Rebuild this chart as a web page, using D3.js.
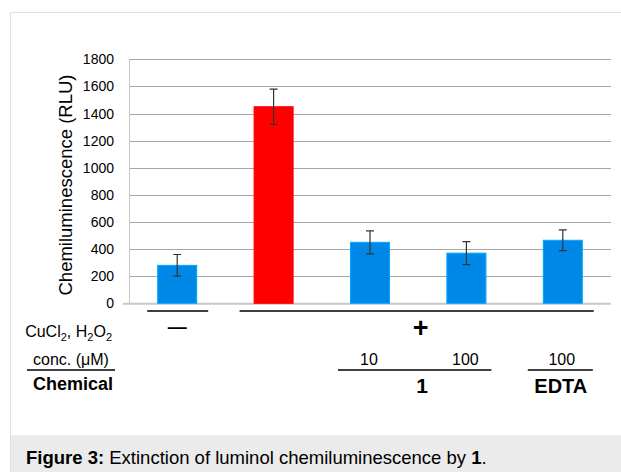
<!DOCTYPE html>
<html>
<head>
<meta charset="UTF-8">
<title>Figure 3</title>
<style>
body { margin: 0; background: #fff; }
svg { display: block; font-family: "Liberation Sans", Arial, sans-serif; }
.grid line { stroke: #a6a6a6; stroke-width: 1px; shape-rendering: crispEdges; }
.grid path { stroke: none; }
.yAxis path, .yAxis line { stroke: none; }
.yAxis text { font-size: 14px; fill: #000; }
.bar { stroke-width: 1px; }
.err { stroke: #333; stroke-width: 1.2px; fill: none; }
.rule { stroke: #000; stroke-width: 1.5px; }
</style>
</head>
<body>
<div class="chart"></div>
<script src="https://cdn.jsdelivr.net/npm/d3@7"></script>
<script>
let width = 621, height = 472;

// data
const categories = ['none', 'CuCl2', '1 10', '1 100', 'EDTA 100'];
const values = [280, 1450, 450, 370, 465];
const errors = [80, 130, 85, 85, 77];
const colors = ['#0088e8', '#ff0000', '#0088e8', '#0088e8', '#0088e8'];
const yTicks = [0, 200, 400, 600, 800, 1000, 1200, 1400, 1600, 1800];
const concLabels = [null, null, '10', '100', '100'];

let svg = d3.select('.chart').append('svg')
    .attr('width', width)
    .attr('height', height);

// frame + caption bar
svg.append('rect')
    .attr('x', 10.5).attr('y', 12.5)
    .attr('width', width).attr('height', height)
    .attr('fill', '#fff').attr('stroke', '#e0e0e0');
svg.append('rect')
    .attr('x', 11).attr('y', 435)
    .attr('width', width).attr('height', 40)
    .attr('fill', '#ebebeb');

let caption = svg.append('text')
    .attr('x', 26).attr('y', 464)
    .style('font-size', '18.5px');
caption.append('tspan').style('font-weight', 'bold').text('Figure 3:');
caption.append('tspan').text(' Extinction of luminol chemiluminescence by ');
caption.append('tspan').style('font-weight', 'bold').text('1');
caption.append('tspan').text('.');

let x0 = 129, x1 = 611, yTop = 59.3, yBottom = 303.3;

let xScale = d3.scaleBand()
    .domain(categories)
    .range([x0, x1])
    .paddingInner(0.595)
    .paddingOuter(0.2975);

let yScale = d3.scaleLinear()
    .domain([0, 1800])
    .range([yBottom, yTop]);

// gridlines
svg.append('g')
    .attr('class', 'grid')
    .attr('transform', 'translate(' + x0 + ',0)')
    .call(d3.axisRight(yScale).tickValues(yTicks.slice(1)).tickSize(x1 - x0).tickFormat(''));

// y axis line and baseline
svg.append('line')
    .attr('x1', x0 + 0.5).attr('x2', x0 + 0.5)
    .attr('y1', yTop).attr('y2', yBottom)
    .attr('stroke', '#c8c8c8');
svg.append('line')
    .attr('x1', x0 - 6).attr('x2', x1)
    .attr('y1', yBottom + 0.5).attr('y2', yBottom + 0.5)
    .attr('stroke', '#c8c8c8').attr('stroke-width', 2);

svg.append('g')
    .attr('class', 'yAxis')
    .attr('transform', 'translate(' + (x0 - 9) + ',0)')
    .call(d3.axisLeft(yScale).tickValues(yTicks).tickSize(0).tickPadding(6).tickFormat(d3.format('d')));

svg.append('text')
    .attr('transform', 'translate(72,185) rotate(-90)')
    .attr('text-anchor', 'middle')
    .style('font-size', '18.5px')
    .text('Chemiluminescence (RLU)');

// bars
svg.selectAll('.bar')
    .data(categories)
    .enter().append('rect')
    .attr('class', 'bar')
    .attr('x', d => xScale(d))
    .attr('width', xScale.bandwidth())
    .attr('y', (d, i) => yScale(values[i]))
    .attr('height', (d, i) => yBottom - yScale(values[i]))
    .attr('fill', (d, i) => colors[i])
    .attr('stroke', (d, i) => d3.color(colors[i]).brighter(0.6));

// error bars
let cx = d => xScale(d) + xScale.bandwidth() / 2;
let eb = svg.selectAll('.errg')
    .data(categories)
    .enter().append('g');
eb.append('path')
    .attr('class', 'err')
    .attr('d', (d, i) => {
        let c = cx(d), t = yScale(values[i] + errors[i]), b = yScale(values[i] - errors[i]);
        return 'M' + (c - 4) + ',' + t + 'H' + (c + 4) + 'M' + c + ',' + t + 'V' + b + 'M' + (c - 4) + ',' + b + 'H' + (c + 4);
    });

// annotation rows
function rule(xa, xb, y) {
    svg.append('line').attr('class', 'rule')
        .attr('x1', xa).attr('x2', xb).attr('y1', y).attr('y2', y);
}
let c = categories.map(cx);

rule(c[0] - 30, c[0] + 31, 311);
rule(c[1] - 34, c[4] + 31, 311);

let cucl = svg.append('text')
    .attr('x', 112).attr('y', 337)
    .attr('text-anchor', 'end')
    .style('font-size', '16px');
cucl.append('tspan').text('CuCl');
cucl.append('tspan').attr('dy', 4).style('font-size', '11px').text('2');
cucl.append('tspan').attr('dy', -4).text(', H');
cucl.append('tspan').attr('dy', 4).style('font-size', '11px').text('2');
cucl.append('tspan').attr('dy', -4).text('O');
cucl.append('tspan').attr('dy', 4).style('font-size', '11px').text('2');

svg.append('text')
    .attr('x', c[0]).attr('y', 333)
    .attr('text-anchor', 'middle')
    .style('font-size', '19px').style('font-weight', 'bold')
    .text('\u2014');
svg.append('text')
    .attr('x', (c[1] + c[4]) / 2 + 2.5).attr('y', 337)
    .attr('text-anchor', 'middle')
    .style('font-size', '27px').style('font-weight', 'bold')
    .text('+');

svg.append('text')
    .attr('x', 71).attr('y', 365)
    .attr('text-anchor', 'middle')
    .style('font-size', '16px')
    .text('conc. (\u03bcM)');
rule(27, 115, 370);

svg.selectAll('.conc')
    .data(categories)
    .enter().filter((d, i) => concLabels[i] !== null)
    .append('text')
    .attr('x', d => cx(d) - 1)
    .attr('y', 365)
    .attr('text-anchor', 'middle')
    .style('font-size', '16px')
    .text(d => concLabels[categories.indexOf(d)]);

rule(c[2] - 32, c[3] + 25, 370);
rule(c[4] - 35, c[4] + 30, 370);

svg.append('text')
    .attr('x', 113).attr('y', 390)
    .attr('text-anchor', 'end')
    .style('font-size', '18px').style('font-weight', 'bold')
    .text('Chemical');
svg.append('text')
    .attr('x', (c[2] + c[3]) / 2 + 4).attr('y', 393)
    .attr('text-anchor', 'middle')
    .style('font-size', '21px').style('font-weight', 'bold')
    .text('1');
svg.append('text')
    .attr('x', c[4] - 2).attr('y', 393)
    .attr('text-anchor', 'middle')
    .style('font-size', '20px').style('font-weight', 'bold')
    .text('EDTA');
</script>
</body>
</html>
